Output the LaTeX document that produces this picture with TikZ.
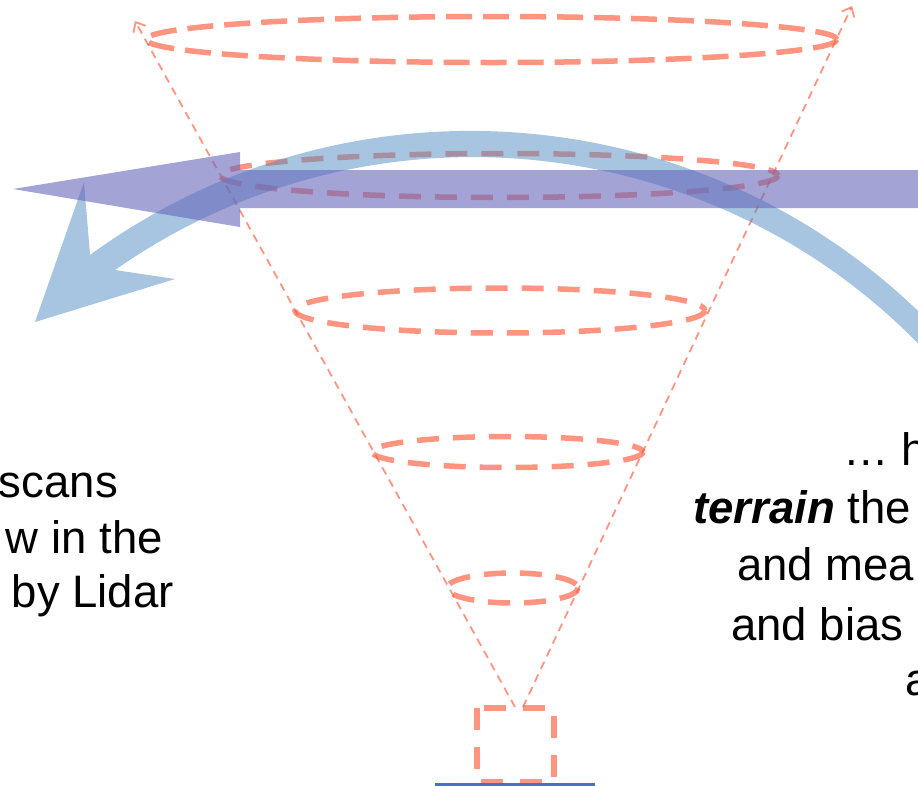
\documentclass[tikz,border=0pt]{standalone}
\usepackage{fontspec}
\setmainfont{Liberation Sans}
\usetikzlibrary{arrows.meta,calc}
\definecolor{salmon}{RGB}{255,90,60}
\definecolor{flowblue}{RGB}{79,140,196}
\definecolor{windpurple}{RGB}{102,102,187}
\definecolor{baseblue}{RGB}{68,114,196}
\begin{document}
\begin{tikzpicture}[x=1pt,y=-1pt,
  ring/.style={draw=salmon, draw opacity=0.65, line width=5.5pt, dash pattern=on 22pt off 14pt},
  ray/.style={draw=salmon, draw opacity=0.65, line width=1.8pt, dash pattern=on 8pt off 6pt,
    -{Straight Barb[length=8pt,width=14pt]}},
  txt/.style={font=\fontsize{45.5}{57}\selectfont, inner sep=0pt, text=black}]
\useasboundingbox (0,0) rectangle (918,785);
\clip (0,0) rectangle (918,785);

% scan rings of the lidar cone
\draw[ring, dash pattern=on 26pt off 11pt] (491.5,39.5) ellipse [x radius=345.5, y radius=23];
\draw[ring] (499,175.5) ellipse [x radius=279, y radius=22];
\draw[ring] (500,310.5) ellipse [x radius=205, y radius=22.5];
\draw[ring] (507.5,452) ellipse [x radius=135.5, y radius=15.5];
\draw[ring] (512.5,588) ellipse [x radius=65.5, y radius=15];

% cone edges
\coordinate (apexL) at (515,707);
\coordinate (tipL) at (135,21);
\coordinate (apexR) at (523,707);
\coordinate (tipR) at (852,6);
\draw[ray] (apexL) -- (tipL);
\draw[ray] (apexR) -- (tipR);

% instrument and ground line
\draw[ring, dash pattern=on 22pt off 17pt] (477,708) rectangle (554,782);
\coordinate (gL) at (435,784.5);
\coordinate (gR) at (595,784.5);
\draw[baseblue, line width=2.5pt] (gL) -- (gR);

% curved flow arrow
\fill[flowblue, fill opacity=0.5]
  ($(470.6,776.8)+(-44:645.9)$) arc[start angle=-44, end angle=-126.1, radius=645.9]
  -- (84,182) -- (35,322) -- (175,279) -- (115,270)
  arc[start angle=-125, end angle=-41, radius=624.4] -- cycle;

% straight wind arrow
\fill[windpurple, fill opacity=0.6]
  (930,170) -- (240,170) -- (240,152) -- (13,189) -- (240,227) -- (240,208) -- (930,208) -- cycle;

% left caption
\node[txt, anchor=base east] (l1) at (118,497) {scans};
\node[txt, anchor=base east] (l2) at (163,553) {w in the};
\node[txt, anchor=base east] (l3) at (174,607) {by Lidar};

% right caption
\node[txt, anchor=base west] (r1) at (843,465) {… h};
\node[txt, anchor=base west] (r2) at (693,523) {\textbf{\textit{terrain}} the};
\node[txt, anchor=base west] (r3) at (737,580) {and mea};
\node[txt, anchor=base west] (r4) at (731,640) {and bias};
\node[txt, anchor=base west] (r5) at (905,695) {a};
\end{tikzpicture}
\end{document}
